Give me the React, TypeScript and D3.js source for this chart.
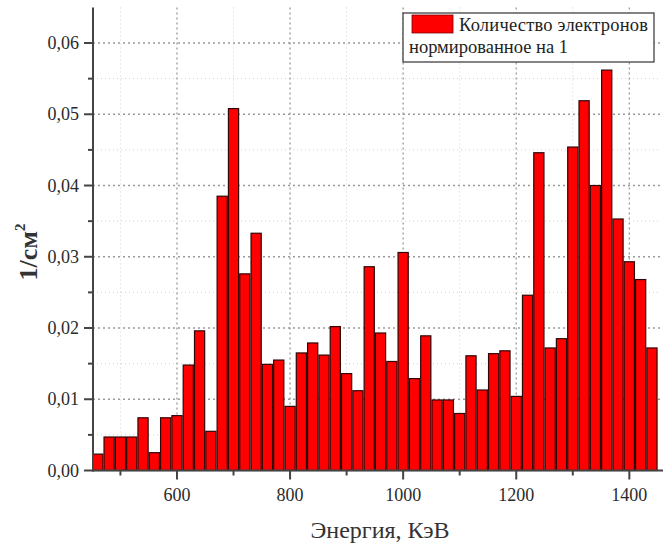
import * as d3 from 'd3';

// bin centres, keV
const energies = [
  460, 480, 500, 520, 540, 560, 580, 600, 620, 640,
  660, 680, 700, 720, 740, 760, 780, 800, 820, 840,
  860, 880, 900, 920, 940, 960, 980, 1000, 1020, 1040,
  1060, 1080, 1100, 1120, 1140, 1160, 1180, 1200, 1220, 1240,
  1260, 1280, 1300, 1320, 1340, 1360, 1380, 1400, 1420, 1440,
];
// 1/cm^2, normalised to 1
const counts = [
  0.0023, 0.0047, 0.0047, 0.0047, 0.0074, 0.0025, 0.0074, 0.0077, 0.0148, 0.0196,
  0.0055, 0.0385, 0.0508, 0.0276, 0.0333, 0.0149, 0.0155, 0.0090, 0.0165, 0.0179,
  0.0162, 0.0202, 0.0136, 0.0112, 0.0286, 0.0193, 0.0153, 0.0306, 0.0129, 0.0189,
  0.0099, 0.0099, 0.0080, 0.0161, 0.0113, 0.0164, 0.0168, 0.0104, 0.0246, 0.0446,
  0.0172, 0.0185, 0.0454, 0.0519, 0.0400, 0.0562, 0.0353, 0.0293, 0.0268, 0.0172,
];
const xMajor = [600, 800, 1000, 1200, 1400];
const xMinor = [500, 700, 900, 1100, 1300];
const yMajor = [0, 0.01, 0.02, 0.03, 0.04, 0.05, 0.06];
const yMinor = [0.005, 0.015, 0.025, 0.035, 0.045, 0.055];
const legendLines = ['Количество электронов', 'нормированное на 1'];

const W = 663;
const H = 545;
const FONT = '"Liberation Serif", "Times New Roman", serif';
const BIN = 20;

export default function App() {
  const x = d3.scaleLinear().domain([451.5, 1456]).range([93, 661]);
  const y = d3.scaleLinear().domain([0, 0.065]).range([470.5, 7.4]);
  const fmt = (v: number) => d3.format('.2f')(v).replace('.', ',');
  const [y0, yTop] = y.range();
  const [x0, x1] = x.range();

  return (
    <svg width={W} height={H} style={{ position: 'absolute', left: 0, top: 0, background: '#fff' }}>
      {/* minor grid */}
      <g stroke="#d0d0d0" strokeWidth={1} strokeDasharray="1,3">
        {xMinor.map((v) => (
          <line key={'xm' + v} x1={x(v)} x2={x(v)} y1={yTop} y2={y0} />
        ))}
        {yMinor.map((v) => (
          <line key={'ym' + v} x1={x0} x2={x1} y1={y(v)} y2={y(v)} />
        ))}
      </g>
      {/* major grid */}
      <g stroke="#9a9a9a" strokeWidth={1.3} strokeDasharray="2,3">
        {xMajor.map((v) => (
          <line key={'xg' + v} x1={x(v)} x2={x(v)} y1={yTop} y2={y0} />
        ))}
        {yMajor.slice(1).map((v) => (
          <line key={'yg' + v} x1={x0} x2={x1} y1={y(v)} y2={y(v)} />
        ))}
      </g>

      {/* bars */}
      <g fill="#ff0000" stroke="#2e0606" strokeWidth={1.2}>
        {energies.map((e, i) => (
          <rect
            key={e}
            x={x(e - BIN * 0.45)}
            y={y(counts[i])}
            width={x(e + BIN * 0.45) - x(e - BIN * 0.45)}
            height={y0 - y(counts[i])}
          />
        ))}
      </g>

      {/* axes */}
      <g stroke="#444" strokeWidth={2}>
        <line x1={x0} x2={x0} y1={yTop} y2={y0 + 1} />
        <line x1={x0 - 1} x2={x1 + 2} y1={y0} y2={y0} />
        {yMajor.map((v) => (
          <line key={'yt' + v} x1={x0 - 9} x2={x0} y1={y(v)} y2={y(v)} />
        ))}
        {yMinor.map((v) => (
          <line key={'ymt' + v} x1={x0 - 5} x2={x0} y1={y(v)} y2={y(v)} />
        ))}
        {xMajor.map((v) => (
          <line key={'xt' + v} x1={x(v)} x2={x(v)} y1={y0} y2={y0 + 9} />
        ))}
        {xMinor.map((v) => (
          <line key={'xmt' + v} x1={x(v)} x2={x(v)} y1={y0} y2={y0 + 5} />
        ))}
      </g>

      {/* tick labels */}
      <g fontFamily={FONT} fontSize={18} fill="#2a2a2a">
        {yMajor.map((v) => (
          <text key={'yl' + v} x={x0 - 14} y={y(v) + 6} textAnchor="end">
            {fmt(v)}
          </text>
        ))}
        {xMajor.map((v) => (
          <text key={'xl' + v} x={x(v)} y={501} textAnchor="middle">
            {v}
          </text>
        ))}
      </g>

      {/* axis titles */}
      <text x={380} y={538} textAnchor="middle" fontFamily={FONT} fontSize={24} fill="#333">
        Энергия, КэВ
      </text>
      <text
        transform="translate(37,252) rotate(-90)"
        textAnchor="middle"
        fontFamily={FONT}
        fontSize={26}
        fontWeight="bold"
        fill="#333"
      >
        1/см<tspan fontSize={15} dy={-12}>2</tspan>
      </text>

      {/* legend */}
      <g fontFamily={FONT} fontSize={18.5} fill="#222">
        <rect x={403} y={13} width={251} height={49} fill="#fff" stroke="#333" strokeWidth={1.2} />
        <rect x={412} y={15} width={41} height={18} fill="#ff0000" stroke="#7a0000" strokeWidth={0.8} />
        <text x={459} y={31} textLength={189}>{legendLines[0]}</text>
        <text x={409} y={53}>{legendLines[1]}</text>
      </g>
    </svg>
  );
}
